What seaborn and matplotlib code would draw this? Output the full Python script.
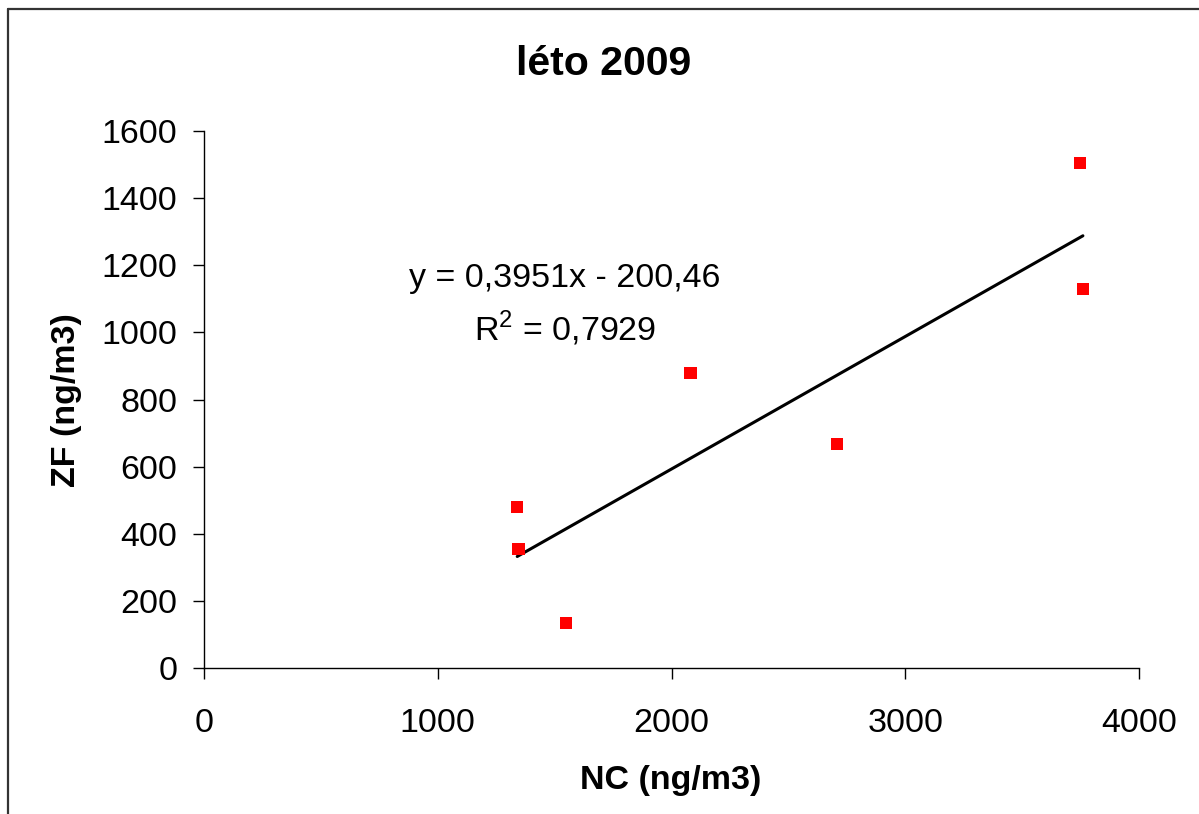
import matplotlib
matplotlib.use("Agg")
import matplotlib.pyplot as plt
import seaborn as sns
import pandas as pd
from matplotlib.lines import Line2D

# Data
nc_values = [1340, 1345, 1550, 2081, 2707, 3747, 3760]
zf_values = [480, 355, 134, 879, 667, 1505, 1129]
x_ticks = [0, 1000, 2000, 3000, 4000]
y_ticks = [0, 200, 400, 600, 800, 1000, 1200, 1400, 1600]
title_text = "léto 2009"
x_label = "NC (ng/m3)"
y_label = "ZF (ng/m3)"
equation_text = "y = 0,3951x - 200,46"
r2_text = "R$^2$ = 0,7929"

df = pd.DataFrame({"NC": nc_values, "ZF": zf_values})

sns.set_theme(style="white")
plt.rcParams["font.family"] = ["Liberation Sans", "DejaVu Sans"]
plt.rcParams["text.color"] = "black"
plt.rcParams["axes.labelcolor"] = "black"
plt.rcParams["xtick.color"] = "black"
plt.rcParams["ytick.color"] = "black"
plt.rcParams["mathtext.fontset"] = "custom"
plt.rcParams["mathtext.rm"] = "Liberation Sans"

W, H = 1199, 814
fig = plt.figure(figsize=(W / 100, H / 100), dpi=100)
fig.patch.set_facecolor("white")

left, right, top, bottom = 204, 1139, 131, 668
ax = fig.add_axes([left / W, 1 - bottom / H, (right - left) / W, (bottom - top) / H])
ax.set_facecolor("white")

sns.regplot(data=df, x="NC", y="ZF", ax=ax, ci=None, marker="s",
            scatter_kws={"color": "#ff0000", "s": 78, "alpha": 1.0,
                         "edgecolor": "none", "zorder": 3},
            line_kws={"color": "black", "linewidth": 2.2, "zorder": 2})

ax.set_xlim(0, 4000)
ax.set_ylim(0, 1600)
ax.set_xticks(x_ticks)
ax.set_yticks(y_ticks)
ax.set_xticklabels([str(v) for v in x_ticks])
ax.set_yticklabels([str(v) for v in y_ticks])

for side in ["top", "right"]:
    ax.spines[side].set_visible(False)
for side in ["left", "bottom"]:
    ax.spines[side].set_color("black")
    ax.spines[side].set_linewidth(1.0)

ax.tick_params(axis="both", which="major", direction="out", length=8, width=1.0,
               color="black", labelsize=24.5, labelcolor="black")
ax.tick_params(axis="x", pad=21)
ax.tick_params(axis="y", pad=11)
ax.xaxis.set_ticks_position("bottom")
ax.yaxis.set_ticks_position("left")

ax.set_xlabel("")
ax.set_ylabel("")
fig.text(671 / W, 1 - 780 / H, x_label, ha="center", va="center",
         fontsize=24.5, fontweight="bold", color="black")
fig.text(66 / W, 1 - 400 / H, y_label, ha="center", va="center",
         rotation=90, fontsize=24.5, fontweight="bold", color="black")
fig.text(604 / W, 1 - 64 / H, title_text, ha="center", va="center",
         fontsize=29.5, fontweight="bold", color="black")

fig.text(565 / W, 1 - 278 / H, equation_text, ha="center", va="center",
         fontsize=24.5, color="black")
fig.text(565 / W, 1 - 328 / H, r2_text, ha="center", va="center",
         fontsize=24.5, color="black")

# Chart border (left and top visible)
fig.add_artist(Line2D([8 / W, 8 / W], [0, 1 - 9 / H], transform=fig.transFigure,
                      color="#333333", linewidth=1.6))
fig.add_artist(Line2D([8 / W, 1], [1 - 9 / H, 1 - 9 / H], transform=fig.transFigure,
                      color="#333333", linewidth=1.6))

fig.savefig("out.png", dpi=100, facecolor="white")
